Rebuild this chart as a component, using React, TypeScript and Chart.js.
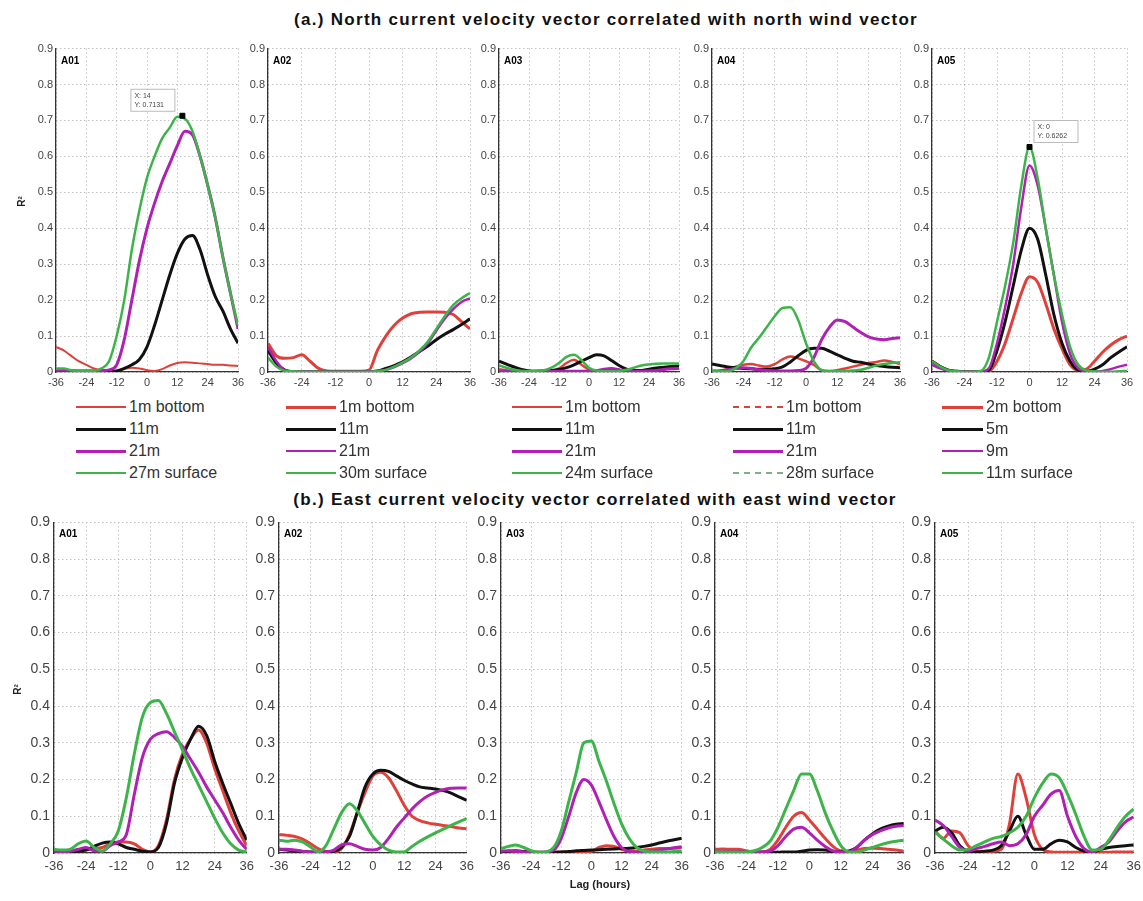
import React, { useEffect, useRef } from 'react';
import { Chart, registerables } from 'chart.js';
Chart.register(...registerables);

const FONT = "'Liberation Sans', Arial, sans-serif";
const LAGS = [-36, -33, -30, -27, -24, -21, -18, -15, -12, -9, -6, -3, 0, 3, 6, 9, 12, 15, 18, 21, 24, 27, 30, 33, 36];
const X_TICKS = [-36, -24, -12, 0, 12, 24, 36];
const Y_TICKS = [0, 0.1, 0.2, 0.3, 0.4, 0.5, 0.6, 0.7, 0.8, 0.9];

const RED = '#e0403a';
const BLACK = '#111111';
const MAGENTA = '#b020b4';
const GREEN = '#3cb44a';

const TITLE_A = '(a.) North current velocity vector correlated with north wind vector';
const TITLE_B = '(b.) East current velocity vector correlated with east wind vector';
const X_TITLE = 'Lag (hours)';
const Y_TITLE = 'R²';

const NAMES_A01 = ['1m bottom', '11m', '21m', '27m surface'];
const NAMES_A02 = ['1m bottom', '11m', '21m', '30m surface'];
const NAMES_A03 = ['1m bottom', '11m', '21m', '24m surface'];
const NAMES_A04 = ['1m bottom', '11m', '21m', '28m surface'];
const NAMES_A05 = ['2m bottom', '5m', '9m', '11m surface'];

// (a) North
const N_A01_RED = [0.07, 0.06, 0.045, 0.03, 0.02, 0.01, 0.005, 0.002, 0.003, 0.008, 0.012, 0.01, 0.005, 0.003, 0.008, 0.018, 0.025, 0.027, 0.026, 0.024, 0.022, 0.02, 0.02, 0.018, 0.017];
const N_A01_BLACK = [0.004, 0.004, 0.003, 0.002, 0.002, 0.002, 0.002, 0.002, 0.003, 0.01, 0.02, 0.035, 0.07, 0.13, 0.2, 0.27, 0.33, 0.37, 0.38, 0.34, 0.27, 0.21, 0.17, 0.12, 0.08];
const N_A01_MAGENTA = [0.005, 0.005, 0.004, 0.003, 0.003, 0.003, 0.004, 0.006, 0.02, 0.09, 0.2, 0.31, 0.4, 0.47, 0.53, 0.58, 0.63, 0.67, 0.66, 0.6, 0.52, 0.43, 0.32, 0.22, 0.12];
const N_A01_GREEN = [0.01, 0.01, 0.005, 0.003, 0.002, 0.003, 0.01, 0.03, 0.1, 0.2, 0.34, 0.45, 0.54, 0.6, 0.65, 0.68, 0.71, 0.705, 0.67, 0.6, 0.52, 0.43, 0.32, 0.22, 0.13];

const N_A02_RED = [0.08, 0.045, 0.038, 0.04, 0.048, 0.03, 0.01, 0.003, 0.002, 0.002, 0.002, 0.002, 0.005, 0.06, 0.1, 0.13, 0.15, 0.162, 0.166, 0.167, 0.167, 0.166, 0.16, 0.14, 0.12];
const N_A02_BLACK = [0.06, 0.025, 0.005, 0.001, 0.001, 0.001, 0.001, 0.001, 0.001, 0.001, 0.001, 0.001, 0.001, 0.003, 0.01, 0.018, 0.028, 0.042, 0.057, 0.072, 0.09, 0.105, 0.118, 0.132, 0.148];
const N_A02_MAGENTA = [0.07, 0.03, 0.005, 0.002, 0.001, 0.001, 0.001, 0.001, 0.001, 0.001, 0.001, 0.001, 0.002, 0.003, 0.006, 0.014, 0.025, 0.038, 0.056, 0.08, 0.115, 0.148, 0.175, 0.195, 0.205];
const N_A02_GREEN = [0.04, 0.015, 0.003, 0.002, 0.001, 0.001, 0.001, 0.001, 0.001, 0.001, 0.001, 0.001, 0.001, 0.002, 0.006, 0.015, 0.027, 0.04, 0.06, 0.085, 0.12, 0.155, 0.186, 0.205, 0.22];

const N_A03_RED = [0.008, 0.005, 0.002, 0.001, 0.001, 0.001, 0.001, 0.002, 0.01, 0.025, 0.034, 0.02, 0.006, 0.002, 0.002, 0.002, 0.002, 0.003, 0.003, 0.003, 0.004, 0.006, 0.008, 0.01, 0.012];
const N_A03_BLACK = [0.03, 0.022, 0.014, 0.007, 0.003, 0.002, 0.003, 0.004, 0.007, 0.012, 0.02, 0.03, 0.04, 0.048, 0.045, 0.032, 0.018, 0.008, 0.004, 0.004, 0.008, 0.011, 0.013, 0.015, 0.017];
const N_A03_MAGENTA = [0.002, 0.002, 0.002, 0.002, 0.002, 0.002, 0.002, 0.002, 0.002, 0.002, 0.002, 0.002, 0.002, 0.004, 0.008, 0.01, 0.006, 0.002, 0.002, 0.002, 0.003, 0.004, 0.007, 0.009, 0.01];
const N_A03_GREEN = [0.018, 0.012, 0.006, 0.003, 0.002, 0.003, 0.005, 0.012, 0.025, 0.042, 0.048, 0.033, 0.012, 0.004, 0.002, 0.002, 0.003, 0.006, 0.012, 0.018, 0.021, 0.023, 0.024, 0.024, 0.024];

const N_A04_RED = [0.003, 0.004, 0.008, 0.015, 0.02, 0.022, 0.018, 0.015, 0.022, 0.035, 0.043, 0.038, 0.03, 0.02, 0.005, 0.003, 0.005, 0.01, 0.015, 0.02, 0.025, 0.028, 0.032, 0.028, 0.022];
const N_A04_BLACK = [0.022, 0.018, 0.014, 0.012, 0.01, 0.009, 0.008, 0.008, 0.009, 0.014, 0.028, 0.045, 0.06, 0.066, 0.066, 0.058, 0.048, 0.038, 0.03, 0.027, 0.022, 0.018, 0.015, 0.013, 0.012];
const N_A04_MAGENTA = [0.002, 0.003, 0.006, 0.01, 0.012, 0.01, 0.006, 0.004, 0.003, 0.003, 0.003, 0.004, 0.01, 0.04, 0.09, 0.125, 0.145, 0.14, 0.125, 0.11, 0.098, 0.092, 0.09, 0.093, 0.095];
const N_A04_GREEN = [0.003, 0.002, 0.002, 0.01, 0.03, 0.068, 0.095, 0.125, 0.155, 0.178, 0.18, 0.145, 0.08, 0.03, 0.005, 0.002, 0.002, 0.003, 0.004, 0.006, 0.012, 0.018, 0.022, 0.025, 0.027];

const N_A05_RED = [0.03, 0.015, 0.005, 0.002, 0.001, 0.001, 0.001, 0.002, 0.03, 0.08, 0.15, 0.22, 0.265, 0.25, 0.19, 0.12, 0.065, 0.02, 0.005, 0.008, 0.03, 0.055, 0.075, 0.09, 0.1];
const N_A05_BLACK = [0.03, 0.015, 0.005, 0.002, 0.001, 0.001, 0.001, 0.005, 0.06, 0.14, 0.24, 0.34, 0.4, 0.37, 0.27, 0.16, 0.08, 0.03, 0.005, 0.002, 0.008, 0.02, 0.04, 0.056, 0.07];
const N_A05_MAGENTA = [0.02, 0.01, 0.003, 0.001, 0.001, 0.001, 0.001, 0.01, 0.08, 0.18, 0.3, 0.46, 0.575, 0.52, 0.4, 0.27, 0.14, 0.05, 0.01, 0.002, 0.001, 0.003, 0.008, 0.015, 0.02];
const N_A05_GREEN = [0.03, 0.015, 0.005, 0.002, 0.001, 0.001, 0.003, 0.04, 0.14, 0.24, 0.36, 0.52, 0.626, 0.54, 0.4, 0.27, 0.16, 0.07, 0.02, 0.004, 0.002, 0.001, 0.001, 0.002, 0.003];

// (b) East
const E_A01_RED = [0.002, 0.003, 0.004, 0.006, 0.01, 0.012, 0.015, 0.025, 0.03, 0.03, 0.025, 0.01, 0.003, 0.02, 0.09, 0.2, 0.27, 0.31, 0.335, 0.3, 0.23, 0.17, 0.11, 0.06, 0.02];
const E_A01_BLACK = [0.002, 0.002, 0.003, 0.005, 0.008, 0.018, 0.027, 0.03, 0.025, 0.015, 0.01, 0.005, 0.003, 0.015, 0.08, 0.19, 0.26, 0.31, 0.345, 0.32, 0.25, 0.19, 0.135, 0.08, 0.035];
const E_A01_MAGENTA = [0.005, 0.003, 0.005, 0.01, 0.015, 0.006, 0.005, 0.02, 0.03, 0.05, 0.16, 0.26, 0.31, 0.325, 0.33, 0.315, 0.29, 0.255, 0.22, 0.18, 0.145, 0.11, 0.07, 0.035, 0.01];
const E_A01_GREEN = [0.01, 0.008, 0.01, 0.025, 0.033, 0.015, 0.005, 0.025, 0.06, 0.15, 0.27, 0.37, 0.41, 0.415, 0.38, 0.33, 0.28, 0.23, 0.185, 0.14, 0.095, 0.055, 0.025, 0.008, 0.003];

const E_A02_RED = [0.05, 0.048, 0.045, 0.038, 0.026, 0.012, 0.004, 0.003, 0.012, 0.05, 0.11, 0.165, 0.21, 0.22, 0.205, 0.17, 0.13, 0.1, 0.088, 0.082, 0.078, 0.075, 0.072, 0.068, 0.066];
const E_A02_BLACK = [0.01, 0.008, 0.006, 0.004, 0.003, 0.002, 0.002, 0.004, 0.015, 0.045, 0.11, 0.18, 0.215, 0.225, 0.222, 0.21, 0.198, 0.188, 0.18, 0.177, 0.174, 0.17, 0.163, 0.153, 0.143];
const E_A02_MAGENTA = [0.01, 0.01, 0.008, 0.005, 0.002, 0.002, 0.003, 0.008, 0.022, 0.025, 0.018, 0.01, 0.008, 0.015, 0.04, 0.07, 0.095, 0.12, 0.14, 0.155, 0.165, 0.172, 0.176, 0.177, 0.177];
const E_A02_GREEN = [0.035, 0.032, 0.035, 0.03, 0.017, 0.003, 0.02, 0.065, 0.11, 0.134, 0.115, 0.08, 0.045, 0.022, 0.008, 0.003, 0.003, 0.018, 0.032, 0.044, 0.055, 0.065, 0.075, 0.085, 0.094];

const E_A03_RED = [0.002, 0.002, 0.002, 0.002, 0.002, 0.002, 0.002, 0.002, 0.002, 0.002, 0.003, 0.004, 0.005, 0.015, 0.02, 0.018, 0.01, 0.005, 0.005, 0.008, 0.01, 0.012, 0.012, 0.013, 0.014];
const E_A03_BLACK = [0.003, 0.005, 0.006, 0.004, 0.002, 0.001, 0.001, 0.002, 0.003, 0.004, 0.006, 0.007, 0.008, 0.009, 0.01, 0.011, 0.012, 0.013, 0.015, 0.018, 0.022, 0.027, 0.032, 0.036, 0.04];
const E_A03_MAGENTA = [0.005, 0.006, 0.005, 0.003, 0.002, 0.002, 0.003, 0.008, 0.04, 0.1, 0.165, 0.2, 0.185, 0.14, 0.09, 0.045, 0.015, 0.004, 0.002, 0.003, 0.005, 0.008, 0.011, 0.014, 0.017];
const E_A03_GREEN = [0.012, 0.018, 0.022, 0.015, 0.006, 0.002, 0.003, 0.015, 0.06, 0.14, 0.22, 0.3, 0.305, 0.25, 0.195, 0.135, 0.08, 0.04, 0.015, 0.005, 0.003, 0.003, 0.003, 0.004, 0.005];

const E_A04_RED = [0.01, 0.011, 0.01, 0.01, 0.006, 0.003, 0.003, 0.01, 0.035, 0.07, 0.1, 0.11, 0.09, 0.065, 0.04, 0.018, 0.006, 0.005, 0.008, 0.012, 0.013, 0.012, 0.01, 0.008, 0.005];
const E_A04_BLACK = [0.002, 0.002, 0.002, 0.002, 0.002, 0.002, 0.002, 0.002, 0.002, 0.003, 0.003, 0.005, 0.008, 0.009, 0.008, 0.005, 0.003, 0.005, 0.015, 0.035, 0.052, 0.065, 0.073, 0.078, 0.08];
const E_A04_MAGENTA = [0.003, 0.003, 0.003, 0.003, 0.003, 0.003, 0.003, 0.005, 0.02, 0.045, 0.065, 0.07, 0.055, 0.035, 0.018, 0.006, 0.002, 0.003, 0.015, 0.035, 0.05, 0.06, 0.068, 0.073, 0.075];
const E_A04_GREEN = [0.003, 0.002, 0.002, 0.002, 0.003, 0.006, 0.015, 0.032, 0.07, 0.12, 0.17, 0.215, 0.215, 0.17, 0.11, 0.06, 0.02, 0.003, 0.002, 0.008, 0.015, 0.022, 0.028, 0.032, 0.035];

const E_A05_RED = [0.06, 0.04, 0.06, 0.055, 0.02, 0.005, 0.004, 0.005, 0.01, 0.08, 0.215, 0.15, 0.05, 0.01, 0.003, 0.002, 0.002, 0.002, 0.002, 0.002, 0.002, 0.002, 0.003, 0.003, 0.003];
const E_A05_BLACK = [0.06, 0.07, 0.055, 0.02, 0.005, 0.003, 0.005, 0.008, 0.02, 0.06, 0.1, 0.05, 0.01, 0.01, 0.025, 0.035, 0.03, 0.015, 0.005, 0.002, 0.01, 0.015, 0.018, 0.02, 0.022];
const E_A05_MAGENTA = [0.09, 0.075, 0.045, 0.015, 0.005, 0.012, 0.018, 0.025, 0.03, 0.02, 0.025, 0.05, 0.1, 0.13, 0.16, 0.17, 0.1, 0.045, 0.012, 0.002, 0.015, 0.03, 0.06, 0.085, 0.098];
const E_A05_GREEN = [0.057, 0.038, 0.02, 0.008, 0.01, 0.02, 0.03, 0.04, 0.045, 0.055, 0.07, 0.1, 0.15, 0.19, 0.215, 0.205, 0.16, 0.105, 0.045, 0.008, 0.01, 0.035, 0.07, 0.1, 0.12];

const TIP_A01 = { x: 14, y: 0.7131 };
const TIP_A05 = { x: 0, y: 0.6262 };

type LegendStyle = { width: number; dash?: boolean; color?: string };
type Series = { name: string; color: string; data: number[]; width: number };
type Panel = {
  id: string;
  row: 0 | 1;
  box: [number, number, number, number];
  series: Series[];
  legend?: LegendStyle[];
  legendX?: number;
  legendLen?: number;
  tip?: { x: number; y: number; side: 'left' | 'right' };
};

const COLORS = [RED, BLACK, MAGENTA, GREEN];
const mk = (names: string[], data: number[][], widths: number[]): Series[] =>
  names.map((n, i) => ({ name: n, color: COLORS[i], data: data[i], width: widths[i] }));

const PANELS: Panel[] = [
  { id: 'A01', row: 0, box: [56, 47, 238, 372], series: mk(NAMES_A01, [N_A01_RED, N_A01_BLACK, N_A01_MAGENTA, N_A01_GREEN], [2, 3, 3, 2.5]),
    legend: [{ width: 2 }, { width: 3 }, { width: 3 }, { width: 2 }], legendX: 76, legendLen: 50, tip: { ...TIP_A01, side: 'left' } },
  { id: 'A02', row: 0, box: [268, 47, 470, 372], series: mk(NAMES_A02, [N_A02_RED, N_A02_BLACK, N_A02_MAGENTA, N_A02_GREEN], [3, 3, 2.5, 2.5]),
    legend: [{ width: 3 }, { width: 3 }, { width: 2 }, { width: 2 }], legendX: 286, legendLen: 50 },
  { id: 'A03', row: 0, box: [499, 47, 679, 372], series: mk(NAMES_A03, [N_A03_RED, N_A03_BLACK, N_A03_MAGENTA, N_A03_GREEN], [2.5, 3, 3, 2.5]),
    legend: [{ width: 2 }, { width: 3 }, { width: 3 }, { width: 2 }], legendX: 512, legendLen: 50 },
  { id: 'A04', row: 0, box: [712, 47, 900, 372], series: mk(NAMES_A04, [N_A04_RED, N_A04_BLACK, N_A04_MAGENTA, N_A04_GREEN], [2.5, 3, 3, 2.5]),
    legend: [{ width: 2, dash: true }, { width: 3 }, { width: 3 }, { width: 2, dash: true, color: '#7fb07f' }], legendX: 733, legendLen: 50 },
  { id: 'A05', row: 0, box: [932, 47, 1127, 372], series: mk(NAMES_A05, [N_A05_RED, N_A05_BLACK, N_A05_MAGENTA, N_A05_GREEN], [3, 3, 2.5, 2.5]),
    legend: [{ width: 3 }, { width: 3 }, { width: 2 }, { width: 2 }], legendX: 942, legendLen: 41, tip: { ...TIP_A05, side: 'right' } },
  { id: 'A01', row: 1, box: [54, 518, 248, 853], series: mk(NAMES_A01, [E_A01_RED, E_A01_BLACK, E_A01_MAGENTA, E_A01_GREEN], [3, 3, 3, 3]) },
  { id: 'A02', row: 1, box: [279, 518, 468, 853], series: mk(NAMES_A02, [E_A02_RED, E_A02_BLACK, E_A02_MAGENTA, E_A02_GREEN], [3, 3, 3, 3]) },
  { id: 'A03', row: 1, box: [501, 518, 683, 853], series: mk(NAMES_A03, [E_A03_RED, E_A03_BLACK, E_A03_MAGENTA, E_A03_GREEN], [3, 3, 3, 3]) },
  { id: 'A04', row: 1, box: [715, 518, 905, 853], series: mk(NAMES_A04, [E_A04_RED, E_A04_BLACK, E_A04_MAGENTA, E_A04_GREEN], [3, 3, 3, 3]) },
  { id: 'A05', row: 1, box: [935, 518, 1135, 853], series: mk(NAMES_A05, [E_A05_RED, E_A05_BLACK, E_A05_MAGENTA, E_A05_GREEN], [3, 3, 3, 3]) },
];

const ROW_CFG = [
  { yW: 30, xH: 20, yFont: 11, xFont: 11, xPad: 4, yPad: 3 },
  { yW: 40, xH: 26, yFont: 14, xFont: 13, xPad: 6, yPad: 4 },
];
const PAD = { left: 2, top: 8, right: 12, bottom: 2 };

const annotPlugin = {
  id: 'annot',
  afterDraw(chart: any, _args: any, opts: any) {
    const { ctx, chartArea } = chart;
    ctx.save();
    ctx.fillStyle = '#000';
    ctx.font = `bold 10px ${FONT}`;
    ctx.textBaseline = 'alphabetic';
    ctx.fillText(opts.label, chartArea.left + 5, chartArea.top + 15);
    if (opts.tip) {
      const px = chart.scales.x.getPixelForValue(opts.tip.x);
      const py = chart.scales.y.getPixelForValue(opts.tip.y);
      const w = 44, h = 22;
      const bx = opts.tip.side === 'left' ? px - w - 8 : px + 4;
      const by = py - h - 5;
      ctx.fillStyle = 'rgba(255,255,255,0.95)';
      ctx.strokeStyle = '#bbb';
      ctx.lineWidth = 1;
      ctx.fillRect(bx, by, w, h);
      ctx.strokeRect(bx + 0.5, by + 0.5, w, h);
      ctx.fillStyle = '#444';
      ctx.font = `7px ${FONT}`;
      ctx.fillText(`X: ${opts.tip.x}`, bx + 4, by + 9);
      ctx.fillText(`Y: ${opts.tip.y}`, bx + 4, by + 18);
    }
    ctx.restore();
  },
};

function PanelChart({ panel }: { panel: Panel }) {
  const ref = useRef<HTMLCanvasElement>(null);
  const cfg = ROW_CFG[panel.row];
  const [L, T, R, B] = panel.box;
  const cw = R - L + PAD.left + cfg.yW + PAD.right;
  const ch = B - T + PAD.top + cfg.xH + PAD.bottom;
  useEffect(() => {
    const n = panel.series.length;
    const datasets: any[] = panel.series.map((s, i) => ({
      label: s.name,
      data: LAGS.map((x, k) => ({ x, y: s.data[k] })),
      borderColor: s.color,
      backgroundColor: s.color,
      borderWidth: s.width,
      pointRadius: 0,
      cubicInterpolationMode: 'monotone',
      fill: false,
      order: n - i,
    }));
    if (panel.tip) {
      datasets.push({
        type: 'scatter',
        label: 'tip',
        data: [{ x: panel.tip.x, y: panel.tip.y }],
        pointStyle: 'rect',
        pointRadius: 3.5,
        backgroundColor: '#000',
        borderColor: '#000',
        showLine: false,
        order: 0,
      });
    }
    const gridCommon = { color: '#a8a8a8', lineWidth: 1, drawTicks: false };
    const borderCommon = { color: '#333', width: 1.3, dash: [1, 3] };
    const chart = new Chart(ref.current as HTMLCanvasElement, {
      type: 'line',
      data: { datasets },
      plugins: [annotPlugin],
      options: {
        responsive: false,
        maintainAspectRatio: false,
        animation: false,
        layout: { padding: PAD },
        plugins: {
          legend: { display: false },
          tooltip: { enabled: false },
          annot: { label: panel.id, tip: panel.tip },
        } as any,
        scales: {
          x: {
            type: 'linear',
            min: -36,
            max: 36,
            afterBuildTicks: (s: any) => { s.ticks = X_TICKS.map((v) => ({ value: v })); },
            afterFit: (s: any) => { s.height = cfg.xH; },
            grid: gridCommon,
            border: borderCommon,
            ticks: { font: { size: cfg.xFont, family: FONT }, color: '#444', padding: cfg.xPad, maxRotation: 0, autoSkip: false },
          },
          y: {
            type: 'linear',
            min: 0,
            max: 0.9,
            afterBuildTicks: (s: any) => { s.ticks = Y_TICKS.map((v) => ({ value: v })); },
            afterFit: (s: any) => { s.width = cfg.yW; },
            grid: gridCommon,
            border: borderCommon,
            ticks: {
              font: { size: cfg.yFont, family: FONT },
              color: '#444',
              padding: cfg.yPad,
              callback: (v: any) => (Number(v) === 0 ? '0' : Number(v).toFixed(1)),
            },
          },
        },
      } as any,
    });
    return () => chart.destroy();
  }, []);
  return (
    <canvas
      ref={ref}
      width={cw}
      height={ch}
      style={{ position: 'absolute', left: L - PAD.left - cfg.yW, top: T - PAD.top, width: cw, height: ch }}
    />
  );
}

function Legend({ panel }: { panel: Panel }) {
  if (!panel.legend) return null;
  const rows = [407, 429, 451, 473];
  const x = panel.legendX as number;
  const len = panel.legendLen as number;
  return (
    <>
      {panel.series.map((s, i) => {
        const st = panel.legend![i];
        return (
          <div key={i} style={{ position: 'absolute', left: x, top: rows[i] - 10, height: 20, display: 'flex', alignItems: 'center' }}>
            <div style={{ width: len, height: 0, borderTop: `${st.width}px ${st.dash ? 'dashed' : 'solid'} ${st.color || s.color}` }} />
            <span style={{ marginLeft: 3, fontSize: 16, color: '#333', fontFamily: FONT, whiteSpace: 'nowrap', lineHeight: '20px' }}>{s.name}</span>
          </div>
        );
      })}
    </>
  );
}

const titleStyle: React.CSSProperties = {
  position: 'absolute',
  width: 900,
  textAlign: 'center',
  fontWeight: 'bold',
  fontSize: 17,
  letterSpacing: '1.3px',
  lineHeight: '20px',
  color: '#111',
  whiteSpace: 'nowrap',
};

export default function App() {
  return (
    <div style={{ position: 'absolute', left: 0, top: 0, width: 1143, height: 901, background: '#fff', fontFamily: FONT, overflow: 'hidden' }}>
      <div style={{ ...titleStyle, left: 606 - 450, top: 10 }}>{TITLE_A}</div>
      <div style={{ ...titleStyle, left: 595 - 450, top: 490 }}>{TITLE_B}</div>
      {PANELS.map((p, i) => (
        <PanelChart key={i} panel={p} />
      ))}
      {PANELS.map((p, i) => (
        <Legend key={'l' + i} panel={p} />
      ))}
      <div style={{ position: 'absolute', left: 6, top: 196, width: 30, textAlign: 'center', transform: 'rotate(-90deg)', fontWeight: 'bold', fontSize: 10, color: '#222' }}>{Y_TITLE}</div>
      <div style={{ position: 'absolute', left: 2, top: 684, width: 30, textAlign: 'center', transform: 'rotate(-90deg)', fontWeight: 'bold', fontSize: 10, color: '#222' }}>{Y_TITLE}</div>
      <div style={{ position: 'absolute', left: 540, top: 878, width: 120, textAlign: 'center', fontWeight: 'bold', fontSize: 11, color: '#222' }}>{X_TITLE}</div>
    </div>
  );
}
